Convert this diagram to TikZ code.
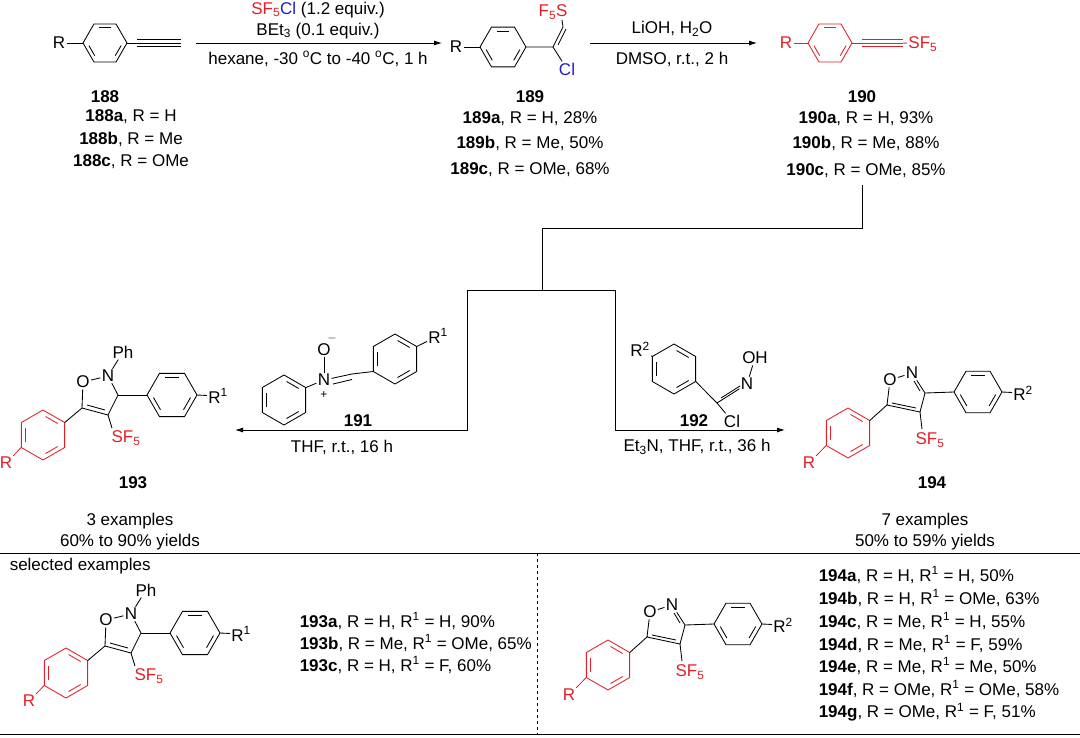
\documentclass[tikz,border=0pt]{standalone}
\usepackage{fontspec}
\setmainfont{Liberation Sans}
\usetikzlibrary{calc,arrows.meta}
\definecolor{rd}{RGB}{228,30,38}
\definecolor{bl}{RGB}{30,30,200}
\newcommand\ring[5]{\begin{scope}[shift={(#1,#2)},#5]
\draw (#4:#3)--(#4+60:#3)--(#4+120:#3)--(#4+180:#3)--(#4+240:#3)--(#4+300:#3)--cycle;
\foreach \a in {0,120,240}{\draw[shorten >=3pt,shorten <=3pt] (#4+\a:0.8*#3)--(#4+\a+60:0.8*#3);}
\end{scope}}
\newcommand\sub[1]{\textsubscript{#1}}
\newcommand\sups[1]{\textsuperscript{#1}}
\newcommand\bigf{\fontsize{17}{20}\selectfont}
\tikzset{atom/.style={inner sep=1pt},
 lbl/.style={inner sep=0pt},
 num/.style={font=\bigf\bfseries},
 arr/.style={-{Latex[length=8pt,width=5pt]}}}
% 193 type
\newcommand\isoxA[3]{\begin{scope}[shift={(#2,#3)}]
\node[atom] (#1O) at (0,0) {O}; \node[atom] (#1N) at (25,-6) {N};
\coordinate (#1C3) at (35,13); \coordinate (#1C4) at (25,33); \coordinate (#1C5) at (-1,26);
\node[atom] (#1Ph) at (40,-30) {Ph};
\draw (#1O)--(#1N); \draw (#1N)--(#1C3)--(#1C4)--(#1C5)--(#1O); \draw (#1N)--(#1Ph);
\draw (22,28)--(4,23);
\ring{89}{13}{25}{0}{}
\draw (#1C3)--(64,13); \node[atom,anchor=west] (#1R1) at (124,14) {R\sups{1}}; \draw (114,13)--(#1R1);
\node[atom,text=rd] (#1SF) at (43,56) {SF\sub{5}}; \draw (#1C4)--(29,46);
\ring{-40}{53}{25}{30}{draw=rd}
\draw (#1C5)--(-18.3,40.5);
\node[atom,text=rd] (#1R) at (-77,81) {R}; \draw[rd] (-61.7,65.5)--(#1R);
\end{scope}}
% 194 type
\newcommand\isoxB[3]{\begin{scope}[shift={(#2,#3)}]
\node[atom] (#1O) at (0,0) {O}; \node[atom] (#1N) at (22,-7) {N};
\coordinate (#1C3) at (35,13); \coordinate (#1C4) at (30,32); \coordinate (#1C5) at (-3,25);
\draw (#1O)--(#1N); \draw (#1N)--(#1C3)--(#1C4)--(#1C5)--(#1O);
\draw (24,1)--(30,11); \draw (26,28)--(2,23);
\ring{88}{12}{24}{0}{}
\draw (#1C3)--(64,12); \node[atom,anchor=west] (#1R2) at (122,13) {R\sups{2}}; \draw (112,12)--(#1R2);
\node[atom,text=rd] (#1SF) at (40,60) {SF\sub{5}}; \draw (#1C4)--(32,49);
\ring{-42}{53}{25}{30}{draw=rd}
\draw (#1C5)--(-20.3,40.5);
\node[atom,text=rd] (#1R) at (-81,83) {R}; \draw[rd] (-63.7,65.5)--(#1R);
\end{scope}}
\begin{document}
\begin{tikzpicture}[x=1pt,y=-1pt,line width=0.85pt,font=\bigf]
\useasboundingbox (0,0) rectangle (1080,737);
% 188
\node[atom] (R188) at (59,43) {R}; \ring{105}{43}{22}{0}{} \draw (R188)--(83,43);
\coordinate (t1) at (127,43); \coordinate (t2) at (181,43);
\draw (t1)--(t2); \draw ($(t1)+(10,-3.5)$)--($(t2)+(0,-3.5)$); \draw ($(t1)+(10,3.5)$)--($(t2)+(0,3.5)$);
\node[num] (l188) at (105,97) {188};
\node (l188a) at (131,117) {\textbf{188a}, R = H};
\node (l188b) at (131,139) {\textbf{188b}, R = Me};
\node (l188c) at (131,162) {\textbf{188c}, R = OMe};
% arrow 1
\coordinate (a1s) at (196,43); \coordinate (a1e) at (442,43);
\draw[arr] (a1s)--(a1e);
\node (c1) at (318,10) {\textcolor{rd}{SF\sub{5}}\textcolor{bl}{Cl} (1.2 equiv.)};
\node (c2) at (318,31) {BEt\sub{3} (0.1 equiv.)};
\node (c3) at (318,59) {hexane, -30 \sups{o}C to -40 \sups{o}C, 1 h};
% 189
\node[atom] (R189) at (456,47) {R}; \ring{503}{47}{23}{0}{} \draw (R189)--(480,47);
\coordinate (v1) at (553,47); \coordinate (v2) at (563,27);
\draw (526,47)--(v1)--(v2); \draw (558,45)--(566,29);
\node[atom,text=bl] (Cl189) at (567,69) {Cl}; \draw (v1)--(Cl189);
\node[atom,anchor=east] (S189) at (569,12) {\textcolor{rd}{F\sub{5}S}}; \draw (v2)--(562,20);
\node[num] (l189) at (530,97) {189};
\node (l189a) at (530,119) {\textbf{189a}, R = H, 28\%};
\node (l189b) at (530,143) {\textbf{189b}, R = Me, 50\%};
\node (l189c) at (530,170) {\textbf{189c}, R = OMe, 68\%};
% arrow 2
\coordinate (a2s) at (590,43); \coordinate (a2e) at (757,43);
\draw[arr] (a2s)--(a2e);
\node (d1) at (672,29) {LiOH, H\sub{2}O};
\node (d2) at (672,59) {DMSO, r.t., 2 h};
% 190
\begin{scope}[rd]
\node[atom,text=rd] (R190) at (786,43) {R}; \ring{830}{43}{22}{0}{} \draw (R190)--(808,43);
\coordinate (u1) at (852,43); \coordinate (u2) at (903,43);
\draw (u1)--(u2); \draw ($(u1)+(10,-3.5)$)--($(u2)+(0,-3.5)$); \draw ($(u1)+(10,3.5)$)--($(u2)+(0,3.5)$);
\node[atom,text=rd,anchor=west] (SF190) at (907,44) {SF\sub{5}}; \draw (u2)--(SF190);
\end{scope}
\node[num] (l190) at (862,97) {190};
\node (l190a) at (866,119) {\textbf{190a}, R = H, 93\%};
\node (l190b) at (866,143) {\textbf{190b}, R = Me, 88\%};
\node (l190c) at (866,171) {\textbf{190c}, R = OMe, 85\%};
% bracket
\coordinate (b1) at (862,185); \coordinate (b2) at (862,228); \coordinate (b3) at (542,228); \coordinate (b4) at (542,290);
\coordinate (bl1) at (467,290); \coordinate (br1) at (615,290);
\coordinate (bl2) at (467,430); \coordinate (br2) at (615,430);
\coordinate (al) at (235,430); \coordinate (ar) at (785,430);
\draw (b1)--(b2)--(b3)--(b4); \draw (bl1)--(br1);
\draw[arr] (bl1)--(bl2)--(al); \draw[arr] (br1)--(br2)--(ar);
\node (e1) at (342,447) {THF, r.t., 16 h};
\node (e2) at (697,447) {Et\sub{3}N, THF, r.t., 36 h};
% 191
\ring{284}{400}{25}{30}{}
\node[atom] (N191) at (324,380) {N}; \node[atom] (O191) at (324,350) {O};
\node[font=\fontsize{12}{12}\selectfont] at (332,338) {$-$};
\node[font=\fontsize{12}{12}\selectfont] at (324,395) {+};
\draw (306,387.5)--(N191); \draw (N191)--(O191);
\coordinate (CH191) at (352,374);
\draw (N191)--(CH191); \draw (333,384)--(352,379.5);
\ring{395}{359}{25}{30}{}
\draw (CH191)--(373.3,371.5);
\node[atom,anchor=west] (R1191) at (427,336) {R\sups{1}}; \draw (416.7,346.5)--(R1191);
\node[num] (l191) at (358,421) {191};
% 192
\ring{674}{369}{25}{30}{}
\node[atom] (R2192) at (640,349) {R\sups{2}}; \draw (652.3,356.5)--(R2192);
\coordinate (C192) at (717,403);
\draw (695.7,381.5)--(C192);
\node[atom] (N192) at (747,384) {N}; \node[atom] (OH192) at (755,358) {OH};
\node[atom] (Cl192) at (732,421) {Cl};
\draw (C192)--(N192); \draw (721,398)--(740,386); \draw (N192)--(OH192); \draw (C192)--(Cl192);
\node[num] (l192) at (694,421) {192};
% products
\isoxA{t}{83}{382}
\node[num] (l193) at (133,483) {193};
\isoxB{u}{890}{380}
\node[num] (l194) at (932,483) {194};
\node (f1) at (130,521) {3 examples};
\node (f2) at (130,542) {60\% to 90\% yields};
\node (g1) at (925,521) {7 examples};
\node (g2) at (925,542) {50\% to 59\% yields};
% table
\coordinate (h1) at (0,553); \coordinate (h2) at (1080,553);
\coordinate (h3) at (0,734); \coordinate (h4) at (1080,734);
\coordinate (vd1) at (537,553); \coordinate (vd2) at (537,734);
\draw (h1)--(h2); \draw (h3)--(h4); \draw[dash pattern=on 3pt off 3pt,line width=0.8pt] (vd1)--(vd2);
\node[anchor=west] (sel) at (6,566) {selected examples};
\isoxA{b}{106}{620}
\node[anchor=west] (s1) at (296,621) {\textbf{193a}, R = H, R\sups{1} = H, 90\%};
\node[anchor=west] (s2) at (296,643) {\textbf{193b}, R = Me, R\sups{1} = OMe, 65\%};
\node[anchor=west] (s3) at (296,665) {\textbf{193c}, R = H, R\sups{1} = F, 60\%};
\isoxB{c}{650}{612}
\node[anchor=west] (r1) at (815,575) {\textbf{194a}, R = H, R\sups{1} = H, 50\%};
\node[anchor=west] (r2) at (815,598) {\textbf{194b}, R = H, R\sups{1} = OMe, 63\%};
\node[anchor=west] (r3) at (815,621) {\textbf{194c}, R = Me, R\sups{1} = H, 55\%};
\node[anchor=west] (r4) at (815,644) {\textbf{194d}, R = Me, R\sups{1} = F, 59\%};
\node[anchor=west] (r5) at (815,666) {\textbf{194e}, R = Me, R\sups{1} = Me, 50\%};
\node[anchor=west] (r6) at (815,689) {\textbf{194f}, R = OMe, R\sups{1} = OMe, 58\%};
\node[anchor=west] (r7) at (815,712) {\textbf{194g}, R = OMe, R\sups{1} = F, 51\%};
\end{tikzpicture}
\end{document}
